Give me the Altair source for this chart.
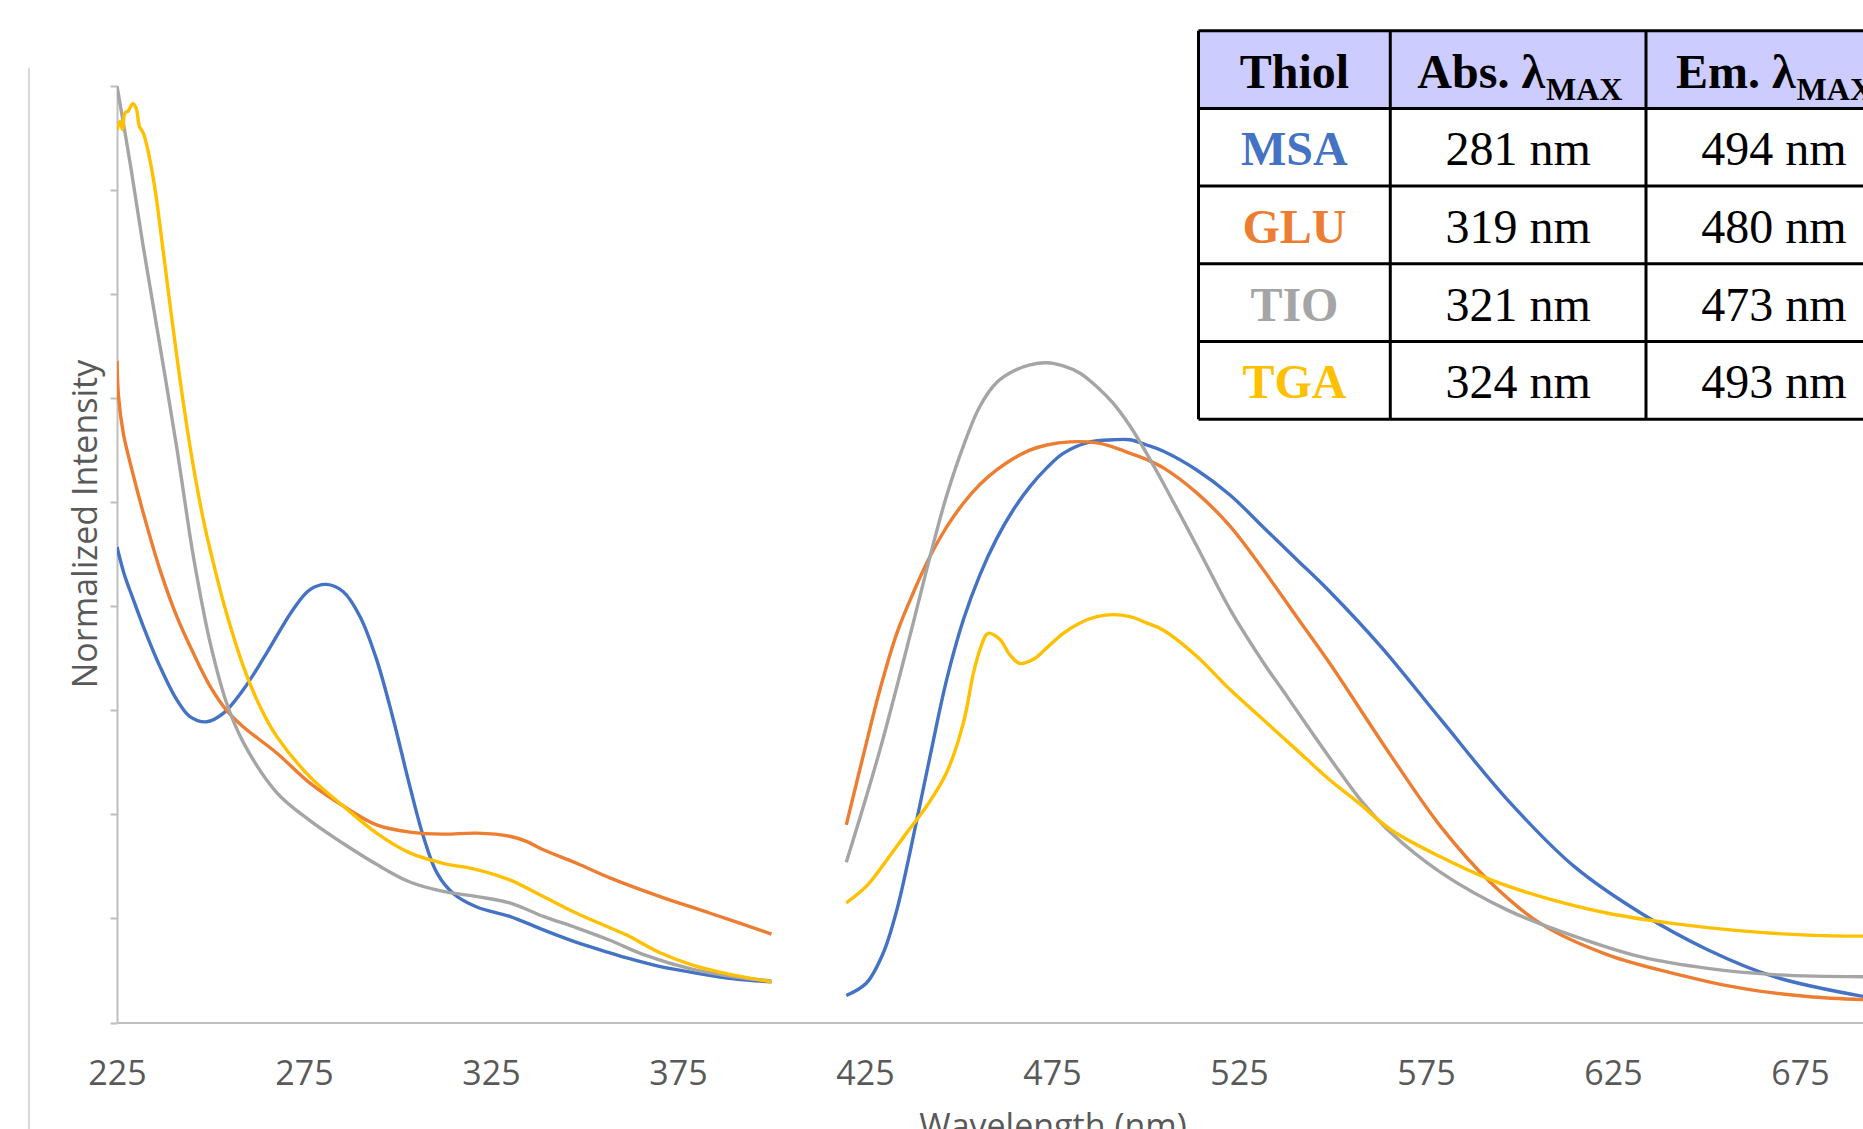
import altair as alt
import pandas as pd

# ---------------- data ----------------
SERIES = ["MSA", "GLU", "TIO", "TGA"]
COLORS = ["#4472C4", "#ED7D31", "#A5A5A5", "#FFC000"]

X_TICKS = [225, 275, 325, 375, 425, 475, 525, 575, 625, 675]
Y_TICKS = [0.0, 0.1, 0.2, 0.3, 0.4, 0.5, 0.6, 0.7, 0.8, 0.9]

# Absorption
msa_abs_nm = [225, 227, 229, 232, 236.5, 241, 244.5, 249, 253.4, 258.8, 265, 272.1, 276.6, 281, 285.5, 290,
              294.4, 298.9, 303.3, 306.9, 310.5, 314.9, 321.2, 330, 339, 347.9, 356.8, 361.3, 370, 379.1, 390, 400]
msa_abs_v = [0.457, 0.430, 0.410, 0.381, 0.342, 0.310, 0.294, 0.289, 0.297, 0.320, 0.355, 0.397, 0.416, 0.421,
             0.414, 0.390, 0.349, 0.291, 0.227, 0.179, 0.144, 0.124, 0.111, 0.102, 0.089, 0.077, 0.067, 0.062,
             0.054, 0.048, 0.042, 0.039]

glu_abs_nm = [225, 225.4, 226.7, 228.5, 232, 236.5, 241, 245.4, 249.9, 254.3, 258.8, 267.7, 276.6, 285.5, 294.4,
              303.3, 312.2, 321.2, 330, 334.5, 339, 347.9, 356.8, 370.2, 383.6, 400]
glu_abs_v = [0.636, 0.602, 0.566, 0.538, 0.490, 0.435, 0.390, 0.355, 0.323, 0.300, 0.284, 0.259, 0.230, 0.208,
             0.190, 0.183, 0.181, 0.182, 0.179, 0.174, 0.166, 0.153, 0.139, 0.121, 0.105, 0.085]

tio_abs_nm = [225, 228.5, 232, 236.5, 241, 244.5, 246.3, 249.9, 254.3, 258.8, 267.7, 276.6, 285.5, 294.4, 303.3,
              312.2, 321.2, 330, 339, 347.9, 356.8, 366, 379, 390, 400]
tio_abs_v = [0.900, 0.826, 0.746, 0.650, 0.552, 0.468, 0.430, 0.365, 0.307, 0.269, 0.221, 0.194, 0.172, 0.152,
             0.135, 0.126, 0.121, 0.115, 0.102, 0.091, 0.079, 0.065, 0.051, 0.044, 0.040]

tga_abs_nm = [225, 225.8, 226.5, 227.1, 228, 229.2, 230.1, 231, 232, 233.4, 235.2, 237.4, 241, 244.5, 248.1,
              251.7, 254.3, 258.8, 263.2, 267.7, 276.6, 285.5, 294.4, 303.3, 312.2, 321.2, 330, 339, 347.9,
              356.8, 361.3, 370.2, 379.1, 388, 400]
tga_abs_v = [0.858, 0.866, 0.858, 0.874, 0.876, 0.883, 0.879, 0.861, 0.855, 0.836, 0.800, 0.740, 0.640, 0.554,
             0.483, 0.428, 0.393, 0.342, 0.304, 0.275, 0.236, 0.208, 0.182, 0.163, 0.153, 0.147, 0.137, 0.121,
             0.105, 0.091, 0.084, 0.067, 0.055, 0.047, 0.039]

# Emission
msa_em_nm = [420, 425.4, 429.9, 433.5, 437, 442.4, 446.8, 451.3, 455.7, 460.2, 464.7, 469.1, 473.6, 478, 485.2,
             491.4, 495.9, 500.3, 504.8, 513.7, 522.6, 531.5, 540.4, 549.3, 563, 579, 596.8, 614.6, 632.5,
             650.3, 668.1, 692]
msa_em_v = [0.026, 0.038, 0.067, 0.108, 0.163, 0.256, 0.329, 0.387, 0.430, 0.465, 0.493, 0.515, 0.533, 0.547,
            0.558, 0.560, 0.560, 0.555, 0.549, 0.531, 0.507, 0.476, 0.445, 0.414, 0.361, 0.291, 0.214, 0.150,
            0.105, 0.070, 0.044, 0.025]

glu_em_nm = [420, 424.5, 429, 433.5, 437.9, 442.4, 446.8, 451.3, 455.7, 460.2, 464.7, 469.1, 473.6, 479.8, 487,
             491.4, 495.9, 500.3, 504.8, 513.7, 522.6, 531.5, 540.4, 549.3, 565.7, 579, 592.4, 605.7, 623.6,
             641.4, 659.2, 677, 692]
glu_em_v = [0.190, 0.256, 0.320, 0.374, 0.413, 0.448, 0.476, 0.499, 0.517, 0.531, 0.542, 0.550, 0.555, 0.558,
            0.557, 0.553, 0.547, 0.541, 0.533, 0.509, 0.477, 0.435, 0.390, 0.345, 0.256, 0.188, 0.134, 0.095,
            0.065, 0.047, 0.033, 0.025, 0.022]

tio_em_nm = [420, 429, 437.9, 442.4, 446.8, 451.3, 455.7, 460.2, 464.7, 469.1, 473.6, 478, 482.5, 487, 491.4,
             495.9, 500.3, 504.8, 513.7, 522.6, 531.5, 538.1, 545, 552.5, 557.5, 565.7, 579, 596.8, 614.6,
             632.5, 650.3, 668.1, 692]
tio_em_v = [0.154, 0.262, 0.384, 0.448, 0.506, 0.554, 0.592, 0.615, 0.626, 0.632, 0.634, 0.631, 0.624, 0.611,
            0.595, 0.573, 0.547, 0.518, 0.458, 0.397, 0.346, 0.312, 0.276, 0.238, 0.214, 0.182, 0.144, 0.108,
            0.083, 0.063, 0.052, 0.046, 0.044]

tga_em_nm = [420, 425.4, 430.8, 436.1, 441.5, 446.8, 451.3, 454, 455.7, 457.5, 458.4, 461.1, 463.8, 466.4, 470,
             473.6, 478, 482.5, 487, 491.4, 495.9, 500.3, 504.8, 513.7, 522.6, 531.5, 540.4, 549.3, 557, 565.7,
             579, 592.4, 605.7, 623.6, 641.4, 659.2, 677, 692]
tga_em_v = [0.115, 0.131, 0.156, 0.182, 0.208, 0.240, 0.288, 0.336, 0.358, 0.373, 0.374, 0.368, 0.353, 0.345,
            0.349, 0.360, 0.374, 0.384, 0.390, 0.392, 0.390, 0.384, 0.377, 0.352, 0.320, 0.291, 0.262, 0.233,
            0.211, 0.185, 0.159, 0.137, 0.121, 0.105, 0.095, 0.088, 0.084, 0.083]

# Table contents
ABS_MAX = ["281 nm", "319 nm", "321 nm", "324 nm"]
EM_MAX = ["494 nm", "480 nm", "473 nm", "493 nm"]
HEADER_MAIN = ["Thiol", "Abs. λ", "Em. λ"]
HEADER_SUB = ["MAX", "MAX"]

# ---------------- build frames ----------------
curves = [
    ("MSA", "abs", msa_abs_nm, msa_abs_v), ("GLU", "abs", glu_abs_nm, glu_abs_v),
    ("TIO", "abs", tio_abs_nm, tio_abs_v), ("TGA", "abs", tga_abs_nm, tga_abs_v),
    ("MSA", "em", msa_em_nm, msa_em_v), ("GLU", "em", glu_em_nm, glu_em_v),
    ("TIO", "em", tio_em_nm, tio_em_v), ("TGA", "em", tga_em_nm, tga_em_v),
]
rec = []
for name, seg, nms, vs in curves:
    for a, b in zip(nms, vs):
        rec.append({"series": name, "segment": name + "-" + seg, "nm": a, "v": b})
df = pd.DataFrame(rec)

# ---------------- layout ----------------
W, H = 1746, 936.5
PX_PER_NM = 3.74
X_MAX = 225 + W / PX_PER_NM
FONT = "Open Sans"
TXT_GREY = "#595959"
AX_GREY = "#BFBFBF"
SERIF = "Liberation Serif"

color = alt.Color("series:N", scale=alt.Scale(domain=SERIES, range=COLORS), legend=None)

lines = alt.Chart(df).mark_line(strokeWidth=3.4, interpolate="catmull-rom", clip=True).encode(
    x=alt.X("nm:Q", scale=alt.Scale(domain=[225, X_MAX], nice=False, zero=False),
            axis=alt.Axis(values=X_TICKS, title="Wavelength (nm)", grid=False, ticks=False, tickSize=0,
                          labelFont=FONT, labelFontSize=34, labelColor=TXT_GREY, labelPadding=35,
                          labelFlush=False, labelOverlap=False, domainColor=AX_GREY, domainWidth=2,
                          titleFont=FONT, titleFontSize=34, titleFontWeight="normal", titleColor=TXT_GREY,
                          titleX=935.5, titleY=115, titleAlign="center", titleBaseline="alphabetic")),
    y=alt.Y("v:Q", scale=alt.Scale(domain=[0, 0.9], nice=False),
            axis=alt.Axis(values=Y_TICKS, labels=False, grid=False, ticks=True, tickSize=7, tickWidth=2,
                          tickColor=AX_GREY, domainColor=AX_GREY, domainWidth=2,
                          title="Normalized Intensity", titleFont=FONT, titleFontSize=34,
                          titleFontWeight="normal", titleColor=TXT_GREY, titleAngle=270,
                          titleX=-21, titleY=437.5, titleAlign="center", titleBaseline="alphabetic")),
    color=color,
    detail="segment:N",
)

# table geometry (in cell units)
col_w = [0.75, 1.0, 1.0]
edges = [0.0]
for w in col_w:
    edges.append(edges[-1] + w)
centers = [(edges[i] + edges[i + 1]) / 2 for i in range(3)]
n_rows = 5
tx = alt.Scale(domain=[0, 2.75], range=[1081.5, 1784.7])
ty = alt.Scale(domain=[0, 5], range=[-55.3, 333.2])
X_END = 3.3

hdr_df = pd.DataFrame({"x0": [0.0], "x1": [X_END], "y0": [0.0], "y1": [1.0]})
hdr_rect = alt.Chart(hdr_df).mark_rect(color="#CCCCFF").encode(
    x=alt.X("x0:Q", scale=tx, axis=None), x2="x1:Q",
    y=alt.Y("y0:Q", scale=ty, axis=None), y2="y1:Q")
body_df = pd.DataFrame({"x0": [0.0], "x1": [X_END], "y0": [1.0], "y1": [float(n_rows)]})
body_rect = alt.Chart(body_df).mark_rect(color="white").encode(
    x=alt.X("x0:Q", scale=tx, axis=None), x2="x1:Q",
    y=alt.Y("y0:Q", scale=ty, axis=None), y2="y1:Q")

hl_df = pd.DataFrame({"y": list(range(n_rows + 1)), "x0": [0.0] * (n_rows + 1), "x1": [X_END] * (n_rows + 1)})
hrules = alt.Chart(hl_df).mark_rule(color="black", strokeWidth=3).encode(
    x=alt.X("x0:Q", scale=tx, axis=None), x2="x1:Q",
    y=alt.Y("y:Q", scale=ty, axis=None))
vl_df = pd.DataFrame({"x": edges, "y0": [0.0] * len(edges), "y1": [float(n_rows)] * len(edges)})
vrules = alt.Chart(vl_df).mark_rule(color="black", strokeWidth=3).encode(
    x=alt.X("x:Q", scale=tx, axis=None),
    y=alt.Y("y0:Q", scale=ty, axis=None), y2="y1:Q")

row_centers = [r + 1.5 for r in range(len(SERIES))]
lab_df = pd.DataFrame({"series": SERIES, "tx": [centers[0]] * 4, "ty": row_centers})
txt_labels = alt.Chart(lab_df).mark_text(font=SERIF, fontSize=48, fontWeight="bold", align="center",
                                         baseline="alphabetic", dy=18).encode(
    x=alt.X("tx:Q", scale=tx, axis=None), y=alt.Y("ty:Q", scale=ty, axis=None),
    text="series:N", color=color)

val_df = pd.DataFrame({"txt": ABS_MAX + EM_MAX,
                       "tx": [centers[1]] * 4 + [centers[2]] * 4,
                       "ty": row_centers + row_centers})
txt_vals = alt.Chart(val_df).mark_text(font=SERIF, fontSize=48, color="black", align="center",
                                       baseline="alphabetic", dy=18).encode(
    x=alt.X("tx:Q", scale=tx, axis=None), y=alt.Y("ty:Q", scale=ty, axis=None), text="txt:N")

thiol_df = pd.DataFrame({"txt": [HEADER_MAIN[0]], "tx": [centers[0]], "ty": [0.5]})
txt_thiol = alt.Chart(thiol_df).mark_text(font=SERIF, fontSize=48, fontWeight="bold", color="black",
                                          align="center", baseline="alphabetic", dy=18).encode(
    x=alt.X("tx:Q", scale=tx, axis=None), y=alt.Y("ty:Q", scale=ty, axis=None), text="txt:N")

split = [centers[1] + 0.105, centers[2] + 0.085]
hm_df = pd.DataFrame({"txt": HEADER_MAIN[1:], "tx": split, "ty": [0.5, 0.5]})
txt_hmain = alt.Chart(hm_df).mark_text(font=SERIF, fontSize=48, fontWeight="bold", color="black",
                                       align="right", baseline="alphabetic", dy=18).encode(
    x=alt.X("tx:Q", scale=tx, axis=None), y=alt.Y("ty:Q", scale=ty, axis=None), text="txt:N")
hs_df = pd.DataFrame({"txt": HEADER_SUB, "tx": split, "ty": [0.5, 0.5]})
txt_hsub = alt.Chart(hs_df).mark_text(font=SERIF, fontSize=32, fontWeight="bold", color="black",
                                      align="left", baseline="alphabetic", dx=1, dy=30).encode(
    x=alt.X("tx:Q", scale=tx, axis=None), y=alt.Y("ty:Q", scale=ty, axis=None), text="txt:N")

border = alt.Chart(pd.DataFrame({"k": [0]})).mark_rule(color="#D9D9D9", strokeWidth=2).encode(
    x=alt.value(-88), y=alt.value(-18), y2=alt.value(1100))

chart = alt.layer(
    lines, hdr_rect, body_rect, hrules, vrules, txt_labels, txt_vals, txt_thiol, txt_hmain, txt_hsub, border
).resolve_scale(
    x="independent", y="independent"
).properties(
    width=W, height=H,
    padding={"left": 117, "top": 86, "right": 0, "bottom": 106.5},
    autosize=alt.AutoSizeParams(type="none"),
    background="white",
).configure_view(stroke=None)

chart.save("out.html", embed_options={"renderer": "svg", "actions": False})
